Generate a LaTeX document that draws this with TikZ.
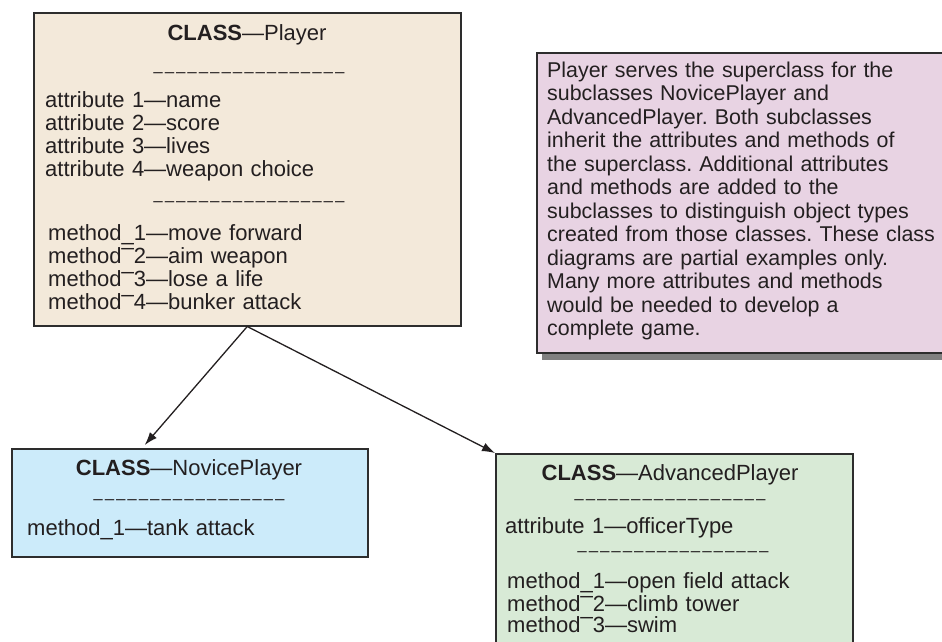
\documentclass[tikz,border=0pt]{standalone}
\usepackage{fontspec}
\setmainfont{Liberation Sans}
\usetikzlibrary{arrows.meta, shadows}

\definecolor{playerfill}{RGB}{243,233,218}
\definecolor{novicefill}{RGB}{204,235,250}
\definecolor{advfill}{RGB}{216,234,214}
\definecolor{notefill}{RGB}{232,211,227}
\definecolor{edgegray}{RGB}{45,45,45}
\definecolor{textgray}{RGB}{35,31,32}
\definecolor{shadowgray}{RGB}{128,128,128}

\frenchspacing
\newcommand{\boxfont}{\fontsize{22}{23.3}\selectfont}
\newcommand{\dsh}{–\kern1.9pt}
\newcommand{\dashrow}{{\fontsize{17}{17}\selectfont\dsh\dsh\dsh\dsh\dsh\dsh\dsh\dsh\dsh\dsh\dsh\dsh\dsh\dsh\dsh\dsh–}}
\newcommand{\upbar}{\raisebox{0.8em}{\_}}

\begin{document}
\begin{tikzpicture}[x=1pt, y=-1pt,
  every node/.style={text=textgray, inner sep=0pt, font=\boxfont},
  classbox/.style={draw=edgegray, line width=1.5pt, anchor=north west},
  lines/.style={anchor=base west, align=left, text width=#1},
  arrowline/.style={draw=textgray, line width=1.3pt, -{Latex[length=13pt,width=9pt]}}]
\useasboundingbox (0,0) rectangle (942,641);
\clip (0,0) rectangle (942,641);

\node[classbox, fill=playerfill, minimum width=427pt, minimum height=313pt] (player) at (33,12) {};
\node[classbox, fill=notefill, minimum width=410pt, minimum height=300pt,
      drop shadow={shadow xshift=5pt, shadow yshift=-7pt, fill=shadowgray, opacity=1}] (note) at (536,52) {};
\node[classbox, fill=novicefill, minimum width=356pt, minimum height=108pt] (novice) at (11,448) {};
\node[classbox, fill=advfill, minimum width=357pt, minimum height=200pt] (advanced) at (495,453) {};

\node[anchor=base] (playertitle) at (247,40) {\textbf{CLASS}—Player};
\node[anchor=base] (playerdash1) at (249,77) {\dashrow};
\node[lines=300pt] (playerattr) at (45,107) {attribute 1—name\\attribute 2—score\\attribute 3—lives\\attribute 4—weapon choice};
\node[anchor=base] (playerdash2) at (249,206) {\dashrow};
\node[lines=300pt] (playermeth) at (48,240) {method\_1—move forward\\method\upbar2—aim weapon\\method\upbar3—lose a life\\method\upbar4—bunker attack};

\node[anchor=base] (novicetitle) at (189,475) {\textbf{CLASS}—NovicePlayer};
\node[anchor=base] (novicedash) at (189,504) {\dashrow};
\node[lines=300pt] (novicemeth) at (27,535) {method\_1—tank attack};

\node[anchor=base] (advtitle) at (670,480) {\textbf{CLASS}—AdvancedPlayer};
\node[anchor=base] (advdash1) at (670,504) {\dashrow};
\node[lines=300pt] (advattr) at (505,533) {attribute 1—officerType};
\node[anchor=base] (advdash2) at (673,556) {\dashrow};
\node[lines=300pt, font=\fontsize{22}{21.3}\selectfont] (advmeth) at (507,588) {method\_1—open field attack\\method\upbar2—climb tower\\method\upbar3—swim};

\node[lines=420pt, font=\fontsize{21.4}{23.5}\selectfont] (notetext) at (547,77) {Player serves the superclass for the\\subclasses NovicePlayer and\\AdvancedPlayer. Both subclasses\\inherit the attributes and methods of\\the superclass. Additional attributes\\and methods are added to the\\subclasses to distinguish object types\\created from those classes. These class\\diagrams are partial examples only.\\Many more attributes and methods\\would be needed to develop a\\complete game.};

\draw[arrowline, shorten >=4pt] (player.south) -- (novice.131);
\draw[arrowline] (player.south) -- (advanced.north west);
\end{tikzpicture}
\end{document}
